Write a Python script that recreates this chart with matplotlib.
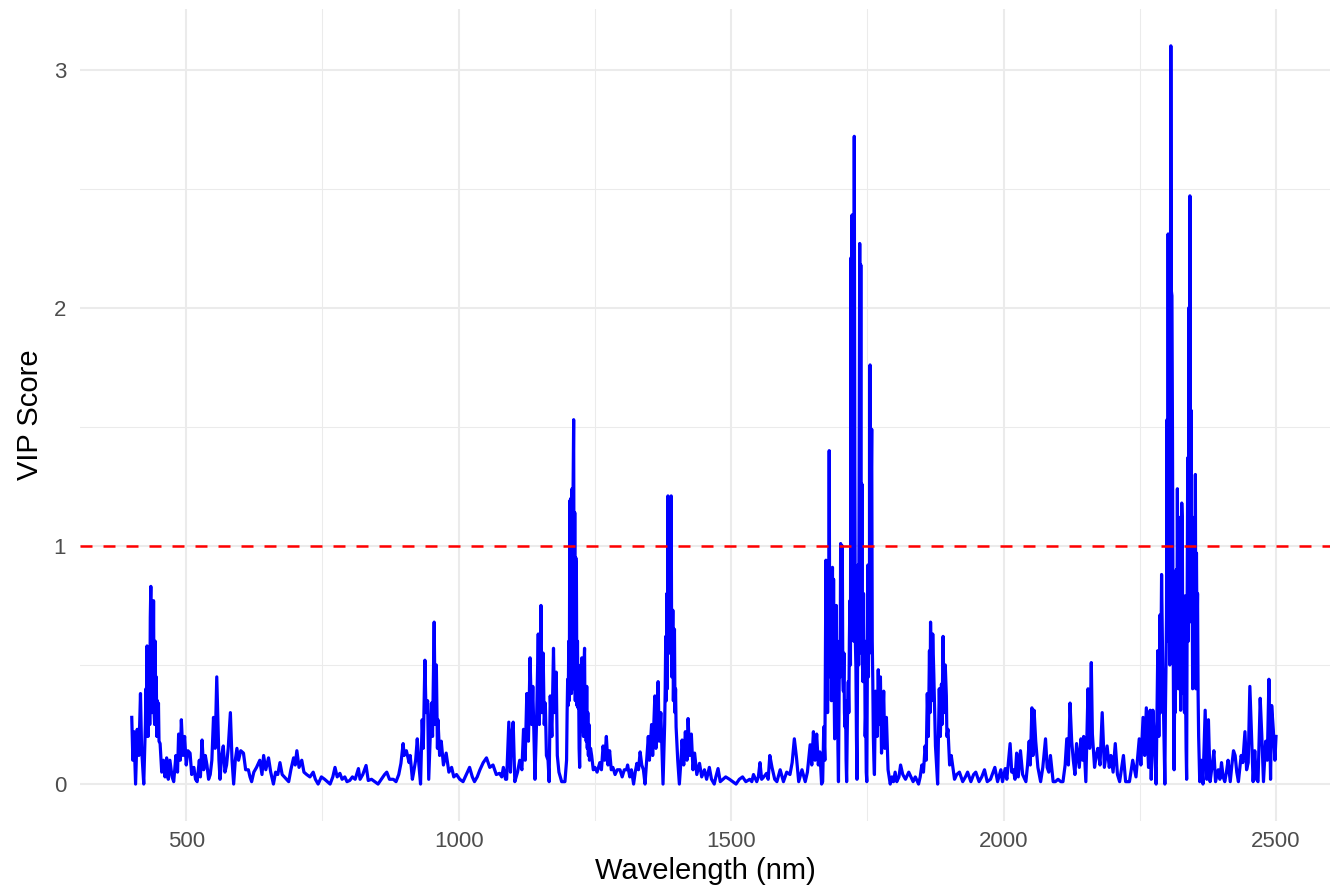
import numpy as np
import matplotlib.pyplot as plt
from matplotlib.ticker import MultipleLocator

# -- VIP scores per wavelength (nm), split by spectral region --
vis = [
    (400, 0.28), (402, 0.10), (404, 0.22), (407, 0.0), (410, 0.23), (413, 0.12),
    (416, 0.38), (418, 0.15), (422, 0.0), (425, 0.25), (426, 0.40), (427, 0.20),
    (428, 0.58), (429, 0.30), (430, 0.20), (431, 0.45), (432, 0.55), (433, 0.25),
    (434, 0.70), (435, 0.83), (436, 0.35), (437, 0.30), (438, 0.75), (439, 0.40),
    (440, 0.77), (441, 0.30), (442, 0.25), (443, 0.60), (444, 0.30), (445, 0.45),
    (446, 0.20), (447, 0.35), (448, 0.20), (449, 0.34), (450, 0.18), (452, 0.17),
    (455, 0.05), (458, 0.10), (461, 0.03),
    (464, 0.11), (467, 0.02), (470, 0.10), (474, 0.03), (477, 0.01), (481, 0.12),
    (484, 0.05), (486, 0.21), (489, 0.10), (491, 0.27), (494, 0.12), (497, 0.20),
    (500, 0.08), (503, 0.14), (507, 0.13), (510, 0.04), (514, 0.07), (517, 0.02),
    (520, 0.01), (524, 0.10), (526, 0.03), (529, 0.185), (532, 0.06), (535, 0.12),
    (538, 0.08), (541, 0.02), (544, 0.04), (547, 0.10), (550, 0.28), (553, 0.15),
    (556, 0.45), (558, 0.28), (560, 0.10), (562, 0.02), (565, 0.12), (568, 0.16),
    (571, 0.05), (574, 0.08), (577, 0.15), (581, 0.30), (584, 0.10), (587, 0.0),
    (590, 0.10), (593, 0.15), (596, 0.10), (600, 0.14), (605, 0.13), (609, 0.06),
    (614, 0.06), (617, 0.03), (620, 0.01), (624, 0.05), (629, 0.07), (635, 0.10),
    (639, 0.04), (642, 0.12), (646, 0.06), (651, 0.11), (655, 0.05), (660, 0.0),
    (664, 0.05), (668, 0.04), (672, 0.09), (676, 0.04), (680, 0.03), (684, 0.02),
    (688, 0.01), (692, 0.06), (697, 0.11), (700, 0.08), (703, 0.14), (707, 0.07),
    (712, 0.10), (716, 0.05), (721, 0.04), (727, 0.03), (733, 0.05), (737, 0.02),
    (742, 0.0), (748, 0.03), (754, 0.02), (759, 0.01), (764, 0.0), (769, 0.03),
    (773, 0.07), (777, 0.03), (782, 0.045), (786, 0.02), (791, 0.03), (795, 0.01),
]

nir = [
    (800, 0.015), (805, 0.03), (810, 0.02), (816, 0.065), (819, 0.02), (824, 0.04),
    (830, 0.078), (834, 0.015), (840, 0.02), (846, 0.01), (852, 0.0), (858, 0.02),
    (864, 0.04), (868, 0.05), (873, 0.02), (880, 0.02), (885, 0.01), (890, 0.04),
    (894, 0.087), (898, 0.17), (900, 0.12), (904, 0.14), (909, 0.09), (911, 0.12),
    (915, 0.02), (917, 0.045), (921, 0.10), (924, 0.19), (927, 0.08), (930, 0.0),
    (933, 0.27), (935, 0.15), (938, 0.52), (940, 0.30), (943, 0.35), (945, 0.02),
    (948, 0.21), (950, 0.34), (952, 0.20), (955, 0.68), (957, 0.25), (959, 0.50),
    (961, 0.15), (962, 0.27), (965, 0.12), (968, 0.18), (972, 0.08), (977, 0.13),
    (982, 0.05), (987, 0.07), (991, 0.03), (996, 0.04), (1002, 0.02), (1008, 0.01),
    (1014, 0.04), (1020, 0.07), (1025, 0.03), (1029, 0.01), (1034, 0.03), (1039, 0.06),
    (1045, 0.09), (1051, 0.11), (1057, 0.07), (1063, 0.08), (1069, 0.04), (1075, 0.045),
    (1079, 0.03), (1082, 0.07), (1086, 0.02), (1088, 0.02), (1092, 0.26), (1095, 0.05),
    (1097, 0.20), (1100, 0.26), (1103, 0.01), (1108, 0.05), (1112, 0.10), (1116, 0.06),
    (1119, 0.23), (1122, 0.10), (1125, 0.38), (1128, 0.18), (1131, 0.53), (1134, 0.25),
    (1136, 0.41), (1140, 0.02), (1143, 0.27), (1146, 0.63), (1148, 0.25), (1151, 0.75),
    (1153, 0.30), (1155, 0.55), (1157, 0.25), (1159, 0.34), (1161, 0.12), (1164, 0.10),
    (1166, 0.01), (1168, 0.37), (1171, 0.20), (1174, 0.57), (1176, 0.30), (1179, 0.47),
    (1181, 0.12), (1184, 0.05), (1189, 0.01), (1195, 0.01), (1198, 0.10), (1199, 0.30),
    (1200, 0.44), (1201, 0.33), (1202, 0.60), (1203, 0.35), (1204, 1.19), (1205, 0.40),
    (1206, 1.20), (1207, 0.38), (1208, 1.24), (1209, 0.45), (1210, 1.25), (1211, 1.53),
    (1212, 0.40), (1213, 1.14), (1214, 0.35), (1215, 0.95), (1216, 0.89), (1217, 0.33),
    (1218, 0.60), (1219, 0.32), (1220, 0.45), (1221, 0.15), (1222, 0.07), (1223, 0.30),
    (1224, 0.50), (1225, 0.25), (1226, 0.53), (1227, 0.22), (1228, 0.45), (1229, 0.20),
    (1230, 0.50), (1231, 0.57), (1232, 0.20), (1233, 0.41), (1234, 0.18), (1235, 0.41),
    (1236, 0.15), (1237, 0.30), (1238, 0.12), (1239, 0.25), (1240, 0.10), (1242, 0.15),
    (1244, 0.12), (1247, 0.06), (1250, 0.07),
    (1254, 0.05), (1259, 0.09), (1262, 0.06), (1265, 0.16), (1268, 0.10), (1271, 0.20),
    (1274, 0.08), (1277, 0.14), (1280, 0.06), (1283, 0.07), (1287, 0.04), (1291, 0.06),
    (1296, 0.06), (1300, 0.03), (1304, 0.06), (1308, 0.06), (1310, 0.08), (1314, 0.03),
    (1317, 0.06), (1321, 0.0), (1324, 0.05), (1327, 0.087), (1330, 0.06), (1333, 0.135),
    (1336, 0.08), (1339, 0.06), (1342, 0.0), (1345, 0.10), (1348, 0.20), (1350, 0.10),
    (1354, 0.25), (1356, 0.12), (1360, 0.37), (1362, 0.15), (1366, 0.43), (1368, 0.18),
    (1371, 0.30), (1373, 0.15), (1375, 0.0), (1378, 0.25), (1379, 0.40), (1380, 0.62),
    (1381, 0.35), (1382, 0.80), (1383, 0.40), (1384, 1.21), (1385, 0.60), (1386, 1.20),
    (1387, 0.55), (1388, 1.10), (1389, 0.60), (1390, 1.21), (1391, 0.45), (1392, 0.50),
    (1393, 0.73), (1394, 0.35), (1395, 0.50), (1396, 0.65), (1397, 0.30), (1398, 0.40),
    (1399, 0.24), (1402, 0.10), (1405, 0.0), (1408, 0.10),
    (1410, 0.185), (1413, 0.08), (1416, 0.22), (1419, 0.10), (1421, 0.275), (1424, 0.12),
    (1427, 0.21), (1430, 0.06), (1433, 0.13), (1437, 0.04), (1442, 0.087), (1446, 0.03),
    (1451, 0.06), (1455, 0.02), (1460, 0.07), (1464, 0.02), (1469, 0.0), (1472, 0.03),
    (1476, 0.065), (1480, 0.01), (1485, 0.02), (1490, 0.03), (1497, 0.02),
]

swir1 = [
    (1503, 0.01), (1509, 0.0), (1515, 0.02), (1521, 0.03), (1527, 0.01), (1534, 0.02),
    (1538, 0.01), (1541, 0.04), (1547, 0.01), (1550, 0.03), (1553, 0.09), (1556, 0.02),
    (1560, 0.03), (1565, 0.045), (1568, 0.02), (1571, 0.12), (1575, 0.07), (1580, 0.02),
    (1584, 0.01), (1590, 0.06), (1596, 0.01), (1602, 0.05), (1608, 0.04), (1612, 0.09),
    (1616, 0.19), (1620, 0.11), (1624, 0.01), (1630, 0.06), (1636, 0.01), (1640, 0.05),
    (1645, 0.165), (1648, 0.08), (1651, 0.22), (1654, 0.10), (1657, 0.21), (1660, 0.08),
    (1663, 0.135), (1666, 0.0), (1668, 0.01), (1670, 0.24), (1672, 0.10), (1674, 0.94),
    (1675, 0.40), (1676, 0.85), (1677, 0.30), (1678, 0.92), (1679, 0.45), (1680, 1.40),
    (1681, 0.50), (1682, 0.85), (1683, 0.90), (1684, 0.35), (1685, 0.75), (1686, 0.91),
    (1687, 0.40), (1688, 0.86), (1689, 0.40), (1690, 0.19), (1691, 0.50), (1692, 0.60),
    (1693, 0.75), (1694, 0.35), (1695, 0.50), (1696, 0.15), (1697, 0.01), (1698, 0.34),
    (1699, 0.60), (1700, 0.45), (1701, 1.01), (1702, 0.50), (1703, 0.80), (1704, 1.00),
    (1705, 0.45), (1706, 0.39), (1707, 0.55), (1708, 0.30), (1709, 0.24), (1710, 0.35),
    (1711, 0.10), (1712, 0.01), (1713, 0.20), (1714, 0.35), (1715, 0.43), (1716, 0.30),
    (1717, 0.60), (1718, 0.77), (1719, 0.50), (1720, 2.21), (1721, 0.70), (1722, 2.39),
    (1723, 0.62), (1724, 1.60), (1725, 0.60), (1726, 2.72), (1727, 1.33), (1728, 0.60),
    (1729, 0.49), (1730, 0.20), (1731, 0.02), (1732, 0.50), (1733, 0.92), (1734, 0.50),
    (1735, 1.40), (1736, 2.27), (1737, 0.80), (1738, 2.18), (1739, 0.55), (1740, 1.26),
    (1741, 0.50), (1742, 0.43), (1743, 0.80), (1744, 0.45), (1745, 0.60), (1746, 0.20),
    (1747, 0.30), (1748, 0.05), (1749, 0.01), (1750, 0.50), (1751, 0.92), (1752, 0.45),
    (1753, 0.90), (1754, 0.55), (1755, 1.76), (1756, 0.70), (1757, 1.20), (1758, 1.49),
    (1759, 0.60), (1760, 0.43), (1761, 0.20), (1762, 0.10), (1763, 0.04), (1765, 0.39),
    (1768, 0.20), (1770, 0.48), (1772, 0.25), (1774, 0.45),
    (1776, 0.13), (1780, 0.39), (1782, 0.15), (1785, 0.28), (1788, 0.06), (1792, 0.0),
    (1795, 0.03), (1798, 0.01), (1801, 0.05), (1804, 0.01), (1808, 0.03), (1811, 0.08),
    (1815, 0.04), (1820, 0.02), (1826, 0.05), (1830, 0.03), (1834, 0.01), (1838, 0.03),
    (1844, 0.0), (1847, 0.03), (1850, 0.08), (1853, 0.05), (1856, 0.16), (1858, 0.10),
    (1860, 0.38), (1862, 0.20), (1864, 0.56), (1865, 0.30), (1866, 0.68), (1868, 0.35),
    (1870, 0.63), (1872, 0.46), (1875, 0.16), (1879, 0.0), (1882, 0.40), (1884, 0.20),
    (1886, 0.42), (1887, 0.25), (1889, 0.62), (1891, 0.30), (1893, 0.50), (1895, 0.37),
    (1896, 0.20), (1898, 0.23), (1901, 0.08), (1904, 0.12), (1910, 0.02), (1914, 0.04),
    (1919, 0.05), (1925, 0.01), (1930, 0.03), (1934, 0.05), (1940, 0.01), (1945, 0.04),
    (1949, 0.05), (1955, 0.01), (1960, 0.03), (1965, 0.06), (1970, 0.01), (1976, 0.02),
    (1984, 0.07), (1989, 0.01), (1995, 0.06), (1998, 0.01),
]

swir2 = [
    (2003, 0.065), (2006, 0.02), (2012, 0.17), (2015, 0.05), (2018, 0.06), (2021, 0.02),
    (2024, 0.13), (2027, 0.03), (2031, 0.14), (2035, 0.04), (2041, 0.01), (2044, 0.08),
    (2047, 0.18), (2049, 0.08), (2052, 0.32), (2054, 0.12), (2056, 0.31), (2059, 0.18),
    (2063, 0.07), (2068, 0.01), (2072, 0.07), (2077, 0.19), (2080, 0.07), (2083, 0.05),
    (2086, 0.12), (2091, 0.01), (2095, 0.01), (2100, 0.02), (2105, 0.01), (2109, 0.01),
    (2113, 0.08), (2116, 0.19), (2119, 0.08), (2122, 0.34), (2125, 0.18), (2128, 0.10),
    (2131, 0.04), (2134, 0.17), (2139, 0.07), (2142, 0.19), (2145, 0.10), (2147, 0.20),
    (2151, 0.01), (2155, 0.40), (2158, 0.15), (2161, 0.51), (2163, 0.21), (2167, 0.07),
    (2170, 0.12), (2173, 0.15), (2177, 0.08), (2181, 0.30), (2185, 0.07), (2190, 0.16),
    (2194, 0.07), (2197, 0.12), (2201, 0.05), (2205, 0.17), (2209, 0.04), (2213, 0.01),
    (2220, 0.12), (2224, 0.01), (2231, 0.01), (2237, 0.10), (2243, 0.03), (2249, 0.19),
    (2252, 0.08), (2256, 0.28), (2259, 0.12), (2262, 0.32), (2266, 0.07), (2269, 0.31),
    (2271, 0.02), (2274, 0.31), (2277, 0.17), (2280, 0.0), (2283, 0.56), (2285, 0.20),
    (2287, 0.71), (2288, 0.30), (2290, 0.88), (2292, 0.50), (2296, 0.0), (2297, 0.30),
    (2298, 0.48), (2299, 0.70), (2300, 1.53), (2301, 0.60), (2302, 2.31), (2303, 0.90),
    (2304, 1.84), (2305, 0.50), (2306, 1.60), (2307, 3.10), (2308, 2.07), (2309, 2.05),
    (2310, 1.47), (2311, 0.68), (2312, 0.30), (2313, 0.06), (2314, 0.40), (2315, 0.30),
    (2316, 0.48), (2317, 0.90), (2318, 0.45), (2319, 1.24), (2320, 0.60), (2321, 0.40),
    (2322, 1.12), (2323, 0.50), (2324, 0.80), (2325, 0.31), (2326, 0.70), (2327, 1.18),
    (2328, 1.10), (2329, 0.45), (2330, 0.38), (2331, 0.70), (2332, 0.30), (2333, 0.79),
    (2334, 0.40), (2335, 0.15), (2336, 0.02), (2337, 0.80), (2338, 1.37), (2339, 0.60),
    (2340, 2.0), (2341, 1.00), (2342, 2.47), (2343, 0.90), (2344, 1.57), (2345, 0.68),
    (2346, 0.90), (2347, 0.40), (2348, 0.50), (2349, 0.80), (2350, 1.12), (2351, 0.45),
    (2352, 1.30), (2353, 0.40), (2354, 0.97), (2355, 0.60), (2356, 0.80), (2357, 0.38),
    (2358, 0.20), (2359, 0.10), (2360, 0.01), (2363, 0.10), (2366, 0.0), (2370, 0.31),
    (2373, 0.02), (2376, 0.27), (2379, 0.01), (2383, 0.08), (2386, 0.14), (2389, 0.01),
    (2394, 0.06), (2397, 0.02), (2400, 0.09), (2403, 0.03), (2406, 0.01), (2409, 0.05),
    (2412, 0.10), (2416, 0.01), (2419, 0.08), (2422, 0.14), (2425, 0.12), (2428, 0.05),
    (2431, 0.01), (2436, 0.12), (2439, 0.09), (2443, 0.22), (2446, 0.06), (2449, 0.09),
    (2452, 0.41), (2455, 0.21), (2458, 0.01), (2461, 0.14), (2464, 0.02), (2467, 0.01),
    (2471, 0.36), (2474, 0.20), (2477, 0.01), (2481, 0.18), (2484, 0.10), (2487, 0.44),
    (2490, 0.02), (2492, 0.33), (2495, 0.23), (2498, 0.10), (2500, 0.20),
]

threshold = 1.0

def main():
    plt.rcParams['font.family'] = ['Liberation Sans', 'DejaVu Sans']

    wl, vip = np.array(vis + nir + swir1 + swir2).T

    fig = plt.figure(figsize=(13.4, 8.94), dpi=100)
    ax = fig.add_axes([0.0597, 0.0817, 0.9328, 0.9083])

    ax.plot(wl, vip, color='#0000FF', lw=2.3, zorder=3)
    ax.axhline(threshold, color='#FF0000', lw=1.8, dashes=(4.8, 4.4), zorder=4)

    # -- ggplot-like minimal theme --
    pad_y = 0.05 * (vip.max() - vip.min())
    ax.set_xlim(305, 2599)
    ax.set_ylim(vip.min() - pad_y, vip.max() + pad_y)

    ax.xaxis.set_major_locator(MultipleLocator(500))
    ax.xaxis.set_minor_locator(MultipleLocator(250))
    ax.yaxis.set_major_locator(MultipleLocator(1))
    ax.yaxis.set_minor_locator(MultipleLocator(0.5))
    ax.grid(which='major', color='#EBEBEB', lw=1.5, zorder=0)
    ax.grid(which='minor', color='#EBEBEB', lw=0.75, zorder=0)
    ax.set_axisbelow(True)
    for s in ax.spines.values():
        s.set_visible(False)
    ax.tick_params(which='both', length=0, labelsize=16, labelcolor='#4D4D4D')
    ax.tick_params(axis='x', pad=7)
    ax.tick_params(axis='y', pad=10)

    ax.set_xlabel("Wavelength (nm)", fontsize=21)
    ax.set_ylabel("VIP Score", fontsize=21)
    ax.xaxis.set_label_coords(0.5, -0.044)
    ax.yaxis.set_label_coords(-0.0288, 0.5)

    plt.savefig("out.png", dpi=100)
    plt.close("all")

if __name__ == "__main__":
    main()
